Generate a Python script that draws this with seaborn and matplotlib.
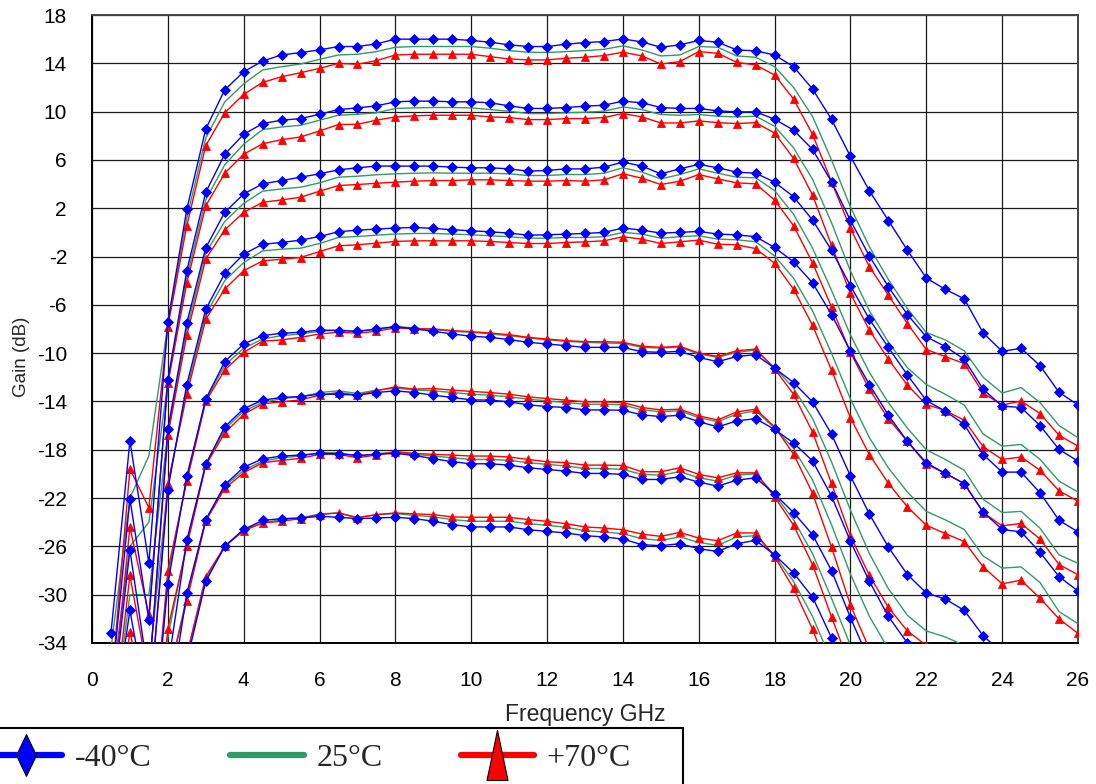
import matplotlib
matplotlib.use("Agg")
import matplotlib.pyplot as plt
from matplotlib.lines import Line2D
from matplotlib.patches import Rectangle
import seaborn as sns
import pandas as pd

# ---------------- data ----------------
freq = [0.5, 1.0, 1.5, 2.0, 2.5, 3.0, 3.5, 4.0, 4.5, 5.0, 5.5, 6.0, 6.5, 7.0, 7.5, 8.0,
        8.5, 9.0, 9.5, 10.0, 10.5, 11.0, 11.5, 12.0, 12.5, 13.0, 13.5, 14.0, 14.5, 15.0,
        15.5, 16.0, 16.5, 17.0, 17.5, 18.0, 18.5, 19.0, 19.5, 20.0, 20.5, 21.0, 21.5, 22.0,
        22.5, 23.0, 23.5, 24.0, 24.5, 25.0, 25.5, 26.0]

temps = ["-40°C", "25°C", "+70°C"]
xticks = [0, 2, 4, 6, 8, 10, 12, 14, 16, 18, 20, 22, 24, 26]
yticks = [18, 14, 10, 6, 2, -2, -6, -10, -14, -18, -22, -26, -30, -34]

# state 1
m40_s1 = [-33.2, -17.25, -27.4, -7.4, 1.9, 8.56, 11.8, 13.3,
          14.19, 14.69, 14.89, 15.11, 15.39, 15.39, 15.61, 16.0, 16.0, 16.0, 16.0, 15.89, 15.75, 15.53, 15.39, 15.39,
          15.58, 15.72, 15.8, 16.02, 15.77, 15.33, 15.53, 15.89, 15.75, 15.11, 15.03, 14.69,
          13.72, 11.87, 9.36, 6.29, 3.44, 0.98, -1.47, -3.78, -4.72, -5.5, -8.33, -9.85, -9.6, -11.04, -13.24, -14.29]
t25_s1 = [-34.5, -22.0, -18.5, -7.6, 1.2, 7.8, 10.8, 12.3,
          13.45, 13.72, 13.94, 14.33, 14.69, 14.75, 14.97, 15.33, 15.39, 15.39, 15.39, 15.39, 15.25, 15.05, 14.92, 14.89,
          14.97, 15.05, 15.16, 15.44, 15.11, 14.61, 14.69, 15.39, 15.33, 14.61, 14.5, 13.72,
          12.0, 9.6, 6.0, 2.1, -1.2, -3.9, -6.3, -8.3, -8.9, -9.8, -12.0, -13.3, -12.85, -14.1, -16.0, -17.0]
p70_s1 = [-38.0, -19.6, -22.8, -7.8, 0.55, 7.18, 9.9, 11.43,
          12.42, 12.89, 13.22, 13.58, 14.0, 13.92, 14.22, 14.69, 14.75, 14.75, 14.75, 14.75, 14.55, 14.36, 14.28, 14.28,
          14.42, 14.5, 14.64, 14.92, 14.61, 13.94, 14.14, 14.97, 14.83, 14.08, 13.86, 13.03,
          11.04, 8.12, 4.19, 0.33, -2.85, -5.2, -7.55, -9.7, -10.28, -10.86, -13.3, -14.3, -13.96, -15.0, -16.8, -17.7]

# state 2
m40_s2 = [-38.0, -22.1, -32.1, -12.2, -3.17, 3.32, 6.47, 8.12,
          9.01, 9.29, 9.42, 9.78, 10.17, 10.31, 10.48, 10.81, 10.87, 10.87, 10.81, 10.81, 10.73, 10.48, 10.26, 10.26,
          10.34, 10.45, 10.53, 10.87, 10.73, 10.34, 10.26, 10.26, 10.06, 9.98, 9.98, 9.37,
          8.47, 6.87, 4.19, 0.99, -1.97, -4.5, -6.8, -8.65, -9.45, -10.5, -13.0, -14.38, -14.5, -16.0, -17.97, -18.94]
t25_s2 = [-38.0, -26.0, -24.0, -12.4, -3.7, 2.7, 5.6, 7.3,
          8.51, 8.73, 8.87, 9.29, 9.7, 9.78, 9.9, 10.26, 10.31, 10.34, 10.34, 10.31, 10.17, 10.03, 9.84, 9.84,
          9.9, 9.95, 10.03, 10.39, 10.17, 9.76, 9.7, 9.76, 9.62, 9.56, 9.62, 8.79,
          7.0, 4.4, 0.8, -3.2, -6.5, -9.1, -11.2, -12.6, -13.4, -14.3, -16.7, -17.7, -17.56, -18.8, -20.6, -21.5]
p70_s2 = [-40.0, -24.4, -31.7, -12.5, -4.2, 2.2, 4.9, 6.47,
          7.34, 7.68, 7.9, 8.4, 8.93, 8.95, 9.29, 9.56, 9.65, 9.7, 9.7, 9.7, 9.56, 9.51, 9.34, 9.34,
          9.42, 9.42, 9.51, 9.84, 9.56, 9.06, 9.06, 9.23, 9.09, 9.01, 9.09, 8.22,
          6.13, 3.09, -1.06, -5.06, -8.1, -10.5, -12.65, -14.25, -14.75, -15.56, -17.75, -18.8, -18.6, -19.7, -21.4, -22.26]

# state 3
m40_s3 = [-40.0, -26.3, -37.0, -16.3, -7.5, -1.27, 1.66, 3.18,
          4.02, 4.29, 4.57, 4.85, 5.18, 5.35, 5.49, 5.49, 5.49, 5.49, 5.4, 5.35, 5.35, 5.26, 5.07, 5.13,
          5.26, 5.26, 5.4, 5.82, 5.49, 4.85, 5.26, 5.63, 5.35, 4.99, 4.9, 4.16,
          2.95, 1.02, -1.47, -4.43, -7.19, -9.53, -11.8, -13.92, -14.8, -15.9, -18.4, -19.85, -19.85, -21.57, -23.84, -24.8]
t25_s3 = [-42.0, -30.0, -30.0, -16.6, -8.0, -1.7, 0.9, 2.4,
          3.41, 3.6, 3.74, 4.1, 4.57, 4.65, 4.77, 4.85, 4.9, 4.93, 4.9, 4.9, 4.9, 4.85, 4.71, 4.71,
          4.79, 4.79, 4.9, 5.35, 4.99, 4.43, 4.79, 5.26, 4.9, 4.57, 4.52, 3.46,
          1.5, -1.3, -4.8, -8.5, -11.6, -14.1, -16.2, -18.0, -18.8, -19.7, -22.1, -23.2, -23.1, -24.5, -26.7, -27.4]
p70_s3 = [-42.0, -28.4, -37.0, -16.8, -8.5, -2.2, 0.2, 1.66,
          2.49, 2.69, 2.91, 3.41, 3.88, 3.96, 4.07, 4.16, 4.24, 4.29, 4.29, 4.35, 4.35, 4.29, 4.24, 4.24,
          4.29, 4.24, 4.35, 4.85, 4.49, 3.96, 4.24, 4.79, 4.43, 4.1, 4.02, 2.68,
          0.55, -2.52, -6.17, -9.94, -13.0, -15.44, -17.3, -19.2, -19.96, -20.8, -23.2, -24.3, -24.1, -25.4, -27.5, -28.35]

# state 4
m40_s4 = [-42.0, -31.3, -40.0, -21.3, -12.6, -6.37, -3.4, -1.8,
          -0.98, -0.84, -0.64, -0.34, 0.05, 0.19, 0.27, 0.36, 0.41, 0.33, 0.22, 0.13, 0.05, -0.06, -0.23, -0.2,
          -0.14, -0.09, 0.0, 0.36, 0.19, -0.06, 0.0, 0.08, -0.14, -0.2, -0.36, -1.25,
          -2.44, -4.18, -6.8, -9.84, -12.6, -15.14, -17.3, -19.08, -19.95, -20.8, -23.15, -24.6, -24.8, -26.5, -28.5, -29.7]
t25_s4 = [-44.0, -34.0, -36.0, -21.0, -13.0, -6.8, -4.0, -2.5,
          -1.53, -1.39, -1.31, -0.92, -0.42, -0.34, -0.23, -0.14, -0.09, -0.09, -0.14, -0.2, -0.28, -0.36, -0.48, -0.48,
          -0.42, -0.42, -0.36, 0.0, -0.14, -0.48, -0.36, -0.28, -0.56, -0.61, -0.78, -1.95,
          -3.8, -6.5, -10.0, -13.8, -17.0, -19.5, -21.5, -23.1, -23.8, -24.6, -26.8, -27.8, -27.7, -29.0, -31.4, -32.4]
p70_s4 = [-44.0, -33.1, -40.0, -20.8, -13.4, -7.2, -4.7, -3.17,
          -2.36, -2.22, -2.08, -1.59, -1.11, -1.03, -0.89, -0.75, -0.7, -0.7, -0.7, -0.7, -0.75, -0.84, -0.92, -0.92,
          -0.84, -0.78, -0.7, -0.36, -0.56, -0.92, -0.78, -0.64, -0.98, -1.03, -1.34, -2.55,
          -4.7, -7.69, -11.4, -15.36, -18.4, -20.78, -22.72, -24.25, -24.94, -25.6, -27.7, -29.1, -28.8, -30.3, -32.0, -33.2]

# state 5
m40_s5 = [-46.0, -46.0, -46.0, -29.1, -20.2, -13.8, -10.7, -9.24,
          -8.55, -8.35, -8.27, -8.08, -8.13, -8.19, -7.99, -7.8, -7.99, -8.19, -8.41, -8.6, -8.69, -8.88, -9.1, -9.24,
          -9.38, -9.52, -9.52, -9.52, -9.88, -9.93, -9.85, -10.35, -10.71, -10.27, -10.13, -11.24,
          -12.44, -14.03, -16.7, -20.17, -23.33, -26.06, -28.33, -29.86, -30.36, -31.3, -33.4, -34.8, -35.2, -36.5, -38.5, -39.5]
t25_s5 = [-46.0, -46.0, -46.0, -28.5, -20.4, -13.9, -11.0, -9.6,
          -8.83, -8.55, -8.41, -8.19, -8.08, -8.19, -8.05, -7.8, -7.91, -8.05, -8.19, -8.27, -8.41, -8.55, -8.74, -8.91,
          -9.02, -9.1, -9.16, -9.19, -9.52, -9.57, -9.52, -10.07, -10.35, -9.93, -9.74, -11.2,
          -12.9, -15.4, -19.0, -23.0, -26.6, -29.5, -31.7, -33.0, -33.5, -34.2, -36.0, -37.0, -37.0, -38.0, -40.0, -41.0]
p70_s5 = [-46.0, -46.0, -46.0, -28.0, -20.6, -14.0, -11.4, -9.93,
          -9.0, -8.91, -8.69, -8.41, -8.27, -8.35, -8.19, -7.91, -7.99, -7.99, -8.13, -8.22, -8.33, -8.47, -8.69, -8.83,
          -8.96, -9.05, -9.05, -9.1, -9.43, -9.52, -9.43, -9.99, -10.27, -9.8, -9.66, -11.3,
          -13.4, -16.53, -20.78, -25.14, -28.4, -31.06, -33.0, -34.2, -35.0, -36.0, -38.0, -39.0, -39.0, -40.0, -42.0, -43.0]

# state 6
m40_s6 = [-48.0, -48.0, -48.0, -36.0, -25.5, -19.2, -16.1, -14.6,
          -13.89, -13.67, -13.59, -13.4, -13.4, -13.48, -13.26, -13.12, -13.26, -13.48, -13.67, -13.87, -13.89, -14.03, -14.28, -14.42,
          -14.5, -14.7, -14.7, -14.73, -15.11, -15.25, -15.14, -15.67, -16.11, -15.61, -15.42, -16.32,
          -17.44, -18.92, -21.83, -25.58, -28.9, -31.8, -34.0, -35.5, -36.0, -37.0, -39.0, -40.0, -40.0, -41.0, -43.0, -44.0]
t25_s6 = [-48.0, -48.0, -48.0, -33.5, -25.7, -19.2, -16.3, -14.8,
          -14.09, -13.76, -13.62, -13.26, -13.12, -13.34, -13.06, -12.9, -13.04, -13.12, -13.26, -13.4, -13.48, -13.62, -13.81, -13.95,
          -14.09, -14.23, -14.23, -14.28, -14.7, -14.84, -14.78, -15.34, -15.67, -15.06, -14.78, -16.2,
          -17.9, -20.5, -24.2, -28.3, -31.8, -34.5, -36.5, -38.0, -38.5, -39.5, -41.0, -42.0, -42.0, -43.0, -45.0, -46.0]
p70_s6 = [-48.0, -48.0, -48.0, -32.8, -26.0, -19.3, -16.6, -15.06,
          -14.2, -14.03, -13.87, -13.48, -13.26, -13.48, -13.12, -12.79, -12.98, -12.93, -13.06, -13.17, -13.26, -13.4, -13.62, -13.76,
          -13.89, -14.03, -14.03, -14.09, -14.5, -14.7, -14.64, -15.2, -15.53, -14.86, -14.64, -16.1,
          -18.36, -21.6, -26.06, -30.86, -34.5, -37.0, -39.0, -40.0, -40.5, -41.5, -43.0, -44.0, -44.0, -45.0, -47.0, -48.0]

# state 7
m40_s7 = [-50.0, -50.0, -50.0, -40.0, -29.9, -23.8, -20.9, -19.45,
          -18.75, -18.52, -18.44, -18.3, -18.33, -18.47, -18.38, -18.3, -18.47, -18.74, -18.99, -19.16, -19.16, -19.27, -19.49, -19.63,
          -19.77, -19.96, -19.96, -20.04, -20.46, -20.46, -20.24, -20.68, -21.01, -20.52, -20.32, -21.66,
          -23.2, -25.03, -28.0, -31.9, -35.5, -38.0, -40.0, -41.0, -41.5, -42.5, -44.0, -45.0, -45.0, -46.0, -48.0, -49.0]
t25_s7 = [-50.0, -50.0, -50.0, -37.0, -30.2, -23.8, -21.0, -19.7,
          -18.94, -18.66, -18.52, -18.24, -18.24, -18.52, -18.33, -18.19, -18.38, -18.52, -18.66, -18.8, -18.8, -18.88, -19.07, -19.21,
          -19.35, -19.55, -19.55, -19.63, -20.04, -20.1, -19.82, -20.32, -20.6, -20.1, -19.99, -21.71,
          -23.8, -26.6, -30.3, -34.2, -37.5, -40.0, -42.0, -43.0, -43.5, -44.5, -46.0, -47.0, -47.0, -48.0, -50.0, -51.0]
p70_s7 = [-50.0, -50.0, -50.0, -37.0, -30.5, -23.9, -21.2, -19.9,
          -19.07, -18.88, -18.71, -18.38, -18.38, -18.66, -18.44, -18.16, -18.3, -18.38, -18.44, -18.52, -18.52, -18.6, -18.8, -18.99,
          -19.07, -19.27, -19.27, -19.3, -19.82, -19.82, -19.49, -20.04, -20.32, -19.91, -19.91, -21.9,
          -24.25, -27.5, -31.83, -36.0, -39.5, -42.0, -44.0, -45.0, -45.5, -46.5, -48.0, -49.0, -49.0, -50.0, -52.0, -53.0]

# state 8
m40_s8 = [-52.0, -52.0, -52.0, -44.0, -35.5, -28.9, -26.0, -24.6,
          -23.85, -23.7, -23.65, -23.51, -23.59, -23.7, -23.65, -23.59, -23.7, -23.92, -24.2, -24.39, -24.39, -24.39, -24.62, -24.75,
          -24.89, -25.11, -25.22, -25.39, -25.86, -25.94, -25.78, -26.19, -26.42, -25.78, -25.5, -26.7,
          -28.2, -30.2, -33.56, -37.5, -41.0, -43.5, -45.5, -46.5, -47.0, -48.0, -49.5, -50.5, -50.5, -51.5, -53.5, -54.5]
t25_s8 = [-52.0, -52.0, -52.0, -41.0, -35.0, -28.7, -26.0, -24.6,
          -24.06, -23.78, -23.65, -23.31, -23.23, -23.59, -23.37, -23.29, -23.43, -23.56, -23.78, -23.92, -23.92, -23.92, -24.12, -24.25,
          -24.42, -24.7, -24.81, -24.95, -25.36, -25.5, -25.22, -25.67, -25.92, -25.22, -25.11, -26.75,
          -28.9, -31.8, -35.5, -39.5, -43.0, -45.5, -47.5, -48.5, -49.0, -50.0, -51.5, -52.5, -52.5, -53.5, -55.5, -56.5]
p70_s8 = [-52.0, -52.0, -52.0, -40.0, -35.0, -28.5, -26.0, -24.7,
          -24.06, -23.92, -23.7, -23.37, -23.23, -23.65, -23.37, -23.23, -23.31, -23.37, -23.56, -23.59, -23.59, -23.59, -23.78, -23.92,
          -24.12, -24.39, -24.48, -24.62, -24.98, -25.17, -24.84, -25.31, -25.53, -24.89, -24.89, -26.85,
          -29.47, -32.86, -37.0, -41.0, -44.5, -47.0, -49.0, -50.0, -50.5, -51.5, -53.0, -54.0, -54.0, -55.0, -57.0, -58.0]

series = {
    "-40°C": [m40_s1, m40_s2, m40_s3, m40_s4, m40_s5, m40_s6, m40_s7, m40_s8],
    "25°C": [t25_s1, t25_s2, t25_s3, t25_s4, t25_s5, t25_s6, t25_s7, t25_s8],
    "+70°C": [p70_s1, p70_s2, p70_s3, p70_s4, p70_s5, p70_s6, p70_s7, p70_s8],
}

rows = []
for t in temps:
    for si, vals in enumerate(series[t]):
        for f, v in zip(freq, vals):
            rows.append({"temp": t, "state": si + 1, "freq": f, "gain": v})
df = pd.DataFrame(rows)

# ---------------- style ----------------
sns.set_style("white")
plt.rcParams["font.family"] = ["Liberation Sans", "DejaVu Sans"]

colors = {"-40°C": "#0000FF", "25°C": "#339966", "+70°C": "#FF0000"}

fig = plt.figure(figsize=(10.96, 7.84), dpi=100)
ax = fig.add_axes([92 / 1096, 1 - 643 / 784, (1078 - 92) / 1096, (643 - 15) / 784])

# green first, then red, blue on top
sns.lineplot(data=df[df.temp == "25°C"], x="freq", y="gain", units="state", estimator=None,
             sort=False, color=colors["25°C"], lw=1.0, ax=ax, legend=False, zorder=3)
sns.lineplot(data=df[df.temp == "+70°C"], x="freq", y="gain", units="state", estimator=None,
             sort=False, color=colors["+70°C"], lw=1.0, marker="^", markersize=6.3,
             markeredgecolor=colors["+70°C"], markeredgewidth=0.6, ax=ax, legend=False, zorder=4)
sns.lineplot(data=df[df.temp == "-40°C"], x="freq", y="gain", units="state", estimator=None,
             sort=False, color=colors["-40°C"], lw=1.0, marker="D", markersize=4.8,
             markeredgecolor=colors["-40°C"], markeredgewidth=0.6, ax=ax, legend=False, zorder=5)

ax.set_xlim(0, 26)
ax.set_ylim(-34, 18)
ax.set_xticks(xticks)
ax.set_yticks(yticks)
ax.set_xticklabels([str(v) for v in xticks])
ax.set_yticklabels([str(v) for v in yticks])
ax.grid(True, color="#1a1a1a", lw=0.9)
ax.set_axisbelow(True)
for s in ["left", "bottom"]:
    ax.spines[s].set_color("black")
    ax.spines[s].set_linewidth(1.4)
for s in ["top", "right"]:
    ax.spines[s].set_color("#444444")
    ax.spines[s].set_linewidth(1.4)
ax.tick_params(axis="y", direction="out", length=3, width=1, pad=15, labelsize=15, colors="black")
ax.tick_params(axis="x", direction="out", length=3, width=1, pad=17, labelsize=15, colors="black")

ax.set_xlabel("")
ax.set_ylabel("")
fig.text(585 / 1096, 1 - 714 / 784, "Frequency GHz", ha="center", va="center", fontsize=16.5)
fig.text(22 / 1096, 1 - 357 / 784, "Gain (dB)", ha="center", va="center", rotation=90, fontsize=13.5)

# ---------------- legend ----------------
frame = Rectangle((-20 / 1096, -20 / 784), (683 + 20) / 1096, (784 - 728 + 20) / 784,
                  transform=fig.transFigure, facecolor="white", edgecolor="black", lw=1.5,
                  zorder=1, clip_on=False)
fig.patches.append(frame)

diamond = [(0, 1), (0.48, 0), (0, -1), (-0.48, 0), (0, 1)]
tri = [(0, 1), (0.42, -1), (-0.42, -1), (0, 1)]
handles = [
    Line2D([], [], color=colors["-40°C"], lw=4.5, marker=diamond, markersize=30,
           markerfacecolor=colors["-40°C"], markeredgecolor="black", markeredgewidth=0.8),
    Line2D([], [], color=colors["25°C"], lw=4.5),
    Line2D([], [], color=colors["+70°C"], lw=4.5, marker=tri, markersize=36,
           markerfacecolor=colors["+70°C"], markeredgecolor="black", markeredgewidth=0.8),
]
leg = fig.legend(handles, temps, ncol=3, loc="center left",
                 bbox_to_anchor=(-11 / 1096, 1 - 758 / 784), frameon=False,
                 prop={"family": "Liberation Serif", "size": 23},
                 handlelength=2.3, handletextpad=0.4, columnspacing=2.44,
                 borderpad=0, borderaxespad=0)

fig.savefig("out.png", dpi=100)
